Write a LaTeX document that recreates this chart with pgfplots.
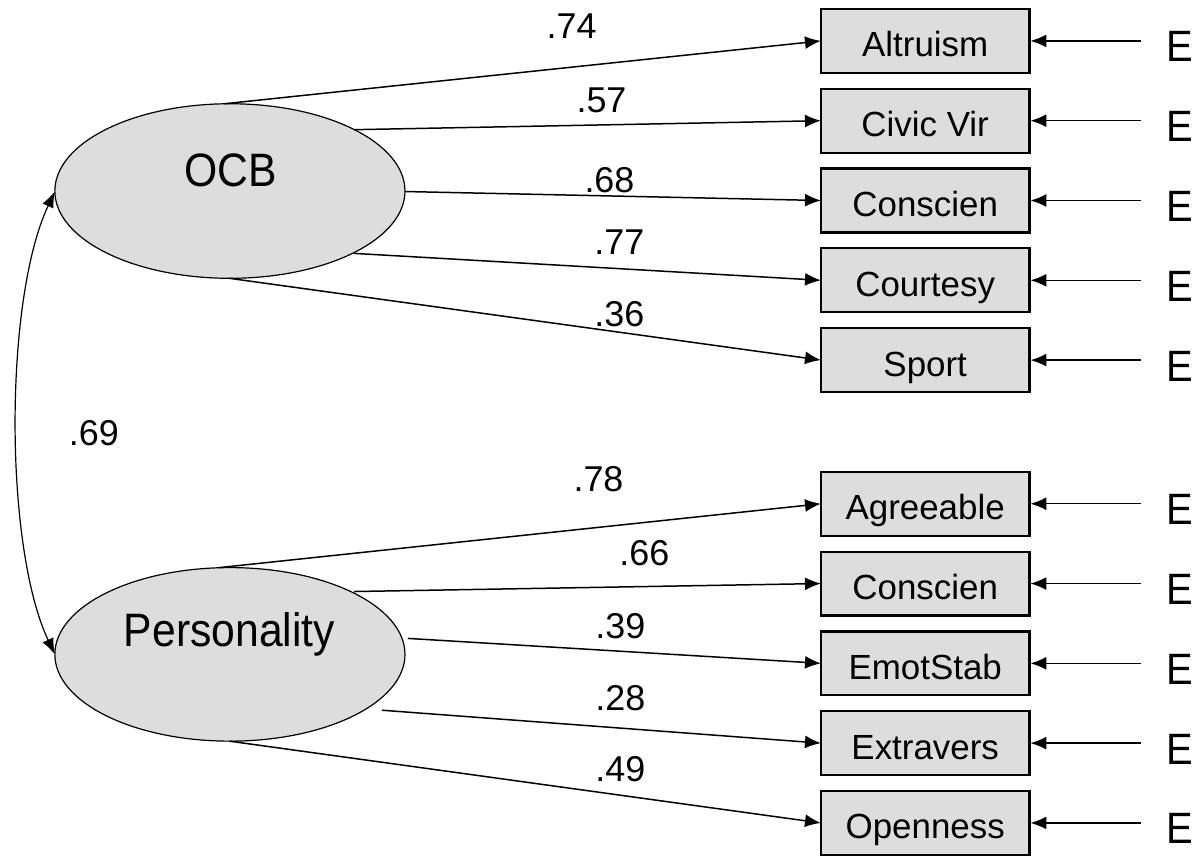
\documentclass[border=0pt]{standalone}
\usepackage{fontspec}
\setmainfont{Liberation Sans}
\newfontfamily\narrowfont[FakeStretch=0.91]{Liberation Sans}
\usepackage{pgfplots}
\pgfplotsset{compat=1.18}
\usetikzlibrary{arrows.meta}
\definecolor{shapegray}{HTML}{DDDDDD}
\newcommand{\fs}[1]{\fontsize{#1}{#1}\selectfont}
\begin{document}
\begin{tikzpicture}
\begin{axis}[
  scale only axis, width=600pt, height=428.5pt,
  xmin=0, xmax=1200, ymin=0, ymax=857, y dir=reverse,
  hide axis, clip=false,
]
\path (axis cs:0,0) rectangle (axis cs:1200,857);
% latent variables
\draw[fill=shapegray, line width=0.6pt] (axis cs:230.5,191.5) ellipse [x radius=87.75pt, y radius=43.75pt];
\draw[fill=shapegray, line width=0.6pt] (axis cs:230.5,656) ellipse [x radius=87.75pt, y radius=43.5pt];
\node[anchor=base, font=\narrowfont\fs{23.5}] at (axis cs:231,187) {OCB};
\node[anchor=base, font=\narrowfont\fs{23.5}] at (axis cs:230,648) {Personality};
% observed boxes and error terms
\pgfplotsinvokeforeach{41,121,201,281,361,505,585,665,745,825}{
  \addplot[draw=black, line width=1.1pt, fill=shapegray] coordinates {(823,#1-32) (1032,#1-32) (1032,#1+32) (823,#1+32)} --cycle;
  \addplot[-{Latex[length=8pt,width=6.5pt]}, line width=0.75pt] coordinates {(1144,#1) (1033,#1)};
  \node[anchor=base, font=\narrowfont\fs{22}] at (axis cs:1183,#1+21) {E};
}
\node[anchor=base, font=\fs{17.5}] at (axis cs:927.5,57) {Altruism};
\node[anchor=base, font=\fs{17.5}] at (axis cs:927.5,137) {Civic Vir};
\node[anchor=base, font=\fs{17.5}] at (axis cs:927.5,217) {Conscien};
\node[anchor=base, font=\fs{17.5}] at (axis cs:927.5,297) {Courtesy};
\node[anchor=base, font=\fs{17.5}] at (axis cs:927.5,377) {Sport};
\node[anchor=base, font=\fs{17.5}] at (axis cs:927.5,521) {Agreeable};
\node[anchor=base, font=\fs{17.5}] at (axis cs:927.5,601) {Conscien};
\node[anchor=base, font=\fs{17.5}] at (axis cs:927.5,681) {EmotStab};
\node[anchor=base, font=\fs{17.5}] at (axis cs:927.5,761) {Extravers};
\node[anchor=base, font=\fs{17.5}] at (axis cs:927.5,841) {Openness};
% loadings
\addplot[-{Latex[length=8pt,width=6.5pt]}, line width=0.75pt] coordinates {(225,104) (823,41)};
\addplot[-{Latex[length=8pt,width=6.5pt]}, line width=0.75pt] coordinates {(355,130) (823,121)};
\addplot[-{Latex[length=8pt,width=6.5pt]}, line width=0.75pt] coordinates {(406,192) (823,201)};
\addplot[-{Latex[length=8pt,width=6.5pt]}, line width=0.75pt] coordinates {(355,254) (823,281)};
\addplot[-{Latex[length=8pt,width=6.5pt]}, line width=0.75pt] coordinates {(230,279) (823,361)};
\addplot[-{Latex[length=8pt,width=6.5pt]}, line width=0.75pt] coordinates {(220,569) (823,505)};
\addplot[-{Latex[length=8pt,width=6.5pt]}, line width=0.75pt] coordinates {(355,593) (823,585)};
\addplot[-{Latex[length=8pt,width=6.5pt]}, line width=0.75pt] coordinates {(409,640) (823,665)};
\addplot[-{Latex[length=8pt,width=6.5pt]}, line width=0.75pt] coordinates {(383,712) (823,745)};
\addplot[-{Latex[length=8pt,width=6.5pt]}, line width=0.75pt] coordinates {(230,743) (823,825)};
% coefficient labels
\node[anchor=base, font=\fs{18}] at (axis cs:573,39) {.74};
\node[anchor=base, font=\fs{18}] at (axis cs:603,113) {.57};
\node[anchor=base, font=\fs{18}] at (axis cs:611,193) {.68};
\node[anchor=base, font=\fs{18}] at (axis cs:621,255) {.77};
\node[anchor=base, font=\fs{18}] at (axis cs:621,327) {.36};
\node[anchor=base, font=\fs{18}] at (axis cs:600,493) {.78};
\node[anchor=base, font=\fs{18}] at (axis cs:646,567) {.66};
\node[anchor=base, font=\fs{18}] at (axis cs:622,640) {.39};
\node[anchor=base, font=\fs{18}] at (axis cs:622,712) {.28};
\node[anchor=base, font=\fs{18}] at (axis cs:622,783) {.49};
\node[anchor=base, font=\fs{18}] at (axis cs:94,447) {.69};
% correlation
\draw[{Latex[length=8pt,width=6pt]}-{Latex[length=8pt,width=6pt]}, line width=0.6pt]
  (axis cs:55,192) .. controls (axis cs:4,300) and (axis cs:4,548) .. (axis cs:55,656);
\end{axis}
\end{tikzpicture}
\end{document}
